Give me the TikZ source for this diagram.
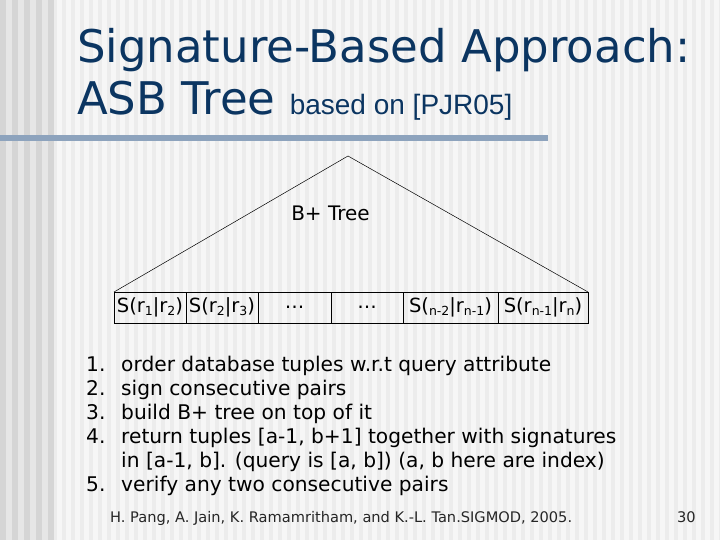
\documentclass[tikz,border=0pt]{standalone}
\usepackage{fontspec}
\setmainfont{DejaVu Sans}
\newfontfamily\armfont{Liberation Sans}
\usepackage{tikz}
\usetikzlibrary{calc}

\definecolor{bgmain}{HTML}{F6F6F6}
\definecolor{bgstripe}{HTML}{ECECEC}
\definecolor{bandlight}{HTML}{E6E6E6}
\definecolor{banddark}{HTML}{D5D5D5}
\definecolor{titleblue}{HTML}{0B3561}
\definecolor{rulegray}{HTML}{8DA3BD}

\newcommand{\lowidx}[1]{\raisebox{-0.3ex}{\fontsize{12.5}{12.5}\selectfont #1}}

\tikzset{
	titletext/.style={anchor=base west,inner sep=0pt,text=titleblue,font=\fontsize{45}{50}\selectfont},
	sigcell/.style={draw,line width=0.7pt,minimum height=31pt,inner sep=0pt,outer sep=0pt,font=\fontsize{19.5}{22}\selectfont},
	treeline/.style={line width=0.5pt},
	listnum/.style={anchor=base west,inner sep=0pt,font=\fontsize{20.2}{24}\selectfont},
	listtext/.style={anchor=base west,inner sep=0pt,font=\fontsize{20.2}{24}\selectfont},
	reftext/.style={anchor=base west,inner sep=0pt,text=black!85,font=\fontsize{14.6}{16}\selectfont}
}

\begin{document}
\begin{tikzpicture}[x=1pt,y=-1pt]
				\useasboundingbox (0,0) rectangle (720,540);
				% background stripes
				\fill[bgmain] (0,0) rectangle (720,540);
				\foreach \i in {0,...,74}
					\fill[bgstripe] (53+9*\i,0) rectangle ++(4,540);
				\fill[bandlight] (0,0) rectangle (53,540);
				\foreach \i in {0,...,4}
					\fill[banddark] (12*\i,0) rectangle ++(6,540);
				\fill[rulegray] (0,135) rectangle (548,141);
				% title
				\node[titletext] (title1) at (77,62.7){Signature-Based Approach:};
				\node[titletext] (title2) at (77,115){ASB Tree {\armfont\fontsize{28}{30}\selectfont based on [PJR05]}};
				% tree
				\coordinate (top) at (348,156);
				\node[sigcell,minimum width=72pt] (c1) at (150,307.5){S(r\lowidx{1}|r\lowidx{2})};
				\node[sigcell,minimum width=72pt] (c2) at (222,307.5){S(r\lowidx{2}|r\lowidx{3})};
				\node[sigcell,minimum width=73pt] (c3) at (294.5,307.5){…};
				\node[sigcell,minimum width=72pt] (c4) at (367,307.5){…};
				\node[sigcell,minimum width=95pt] (c5) at (450.5,307.5){S(\lowidx{n-2}|r\lowidx{n-1})};
				\node[sigcell,minimum width=90pt] (c6) at (543,307.5){S(r\lowidx{n-1}|r\lowidx{n})};
				\draw[treeline] (c1.north west) -- (top) -- (c6.north east);
				\node[anchor=base,inner sep=0pt,font=\fontsize{20}{24}\selectfont] (btree) at (330.5,221){B+ Tree};
				% steps
				\node[listnum] (n1) at (86,371){1.};
				\node[listnum] (n2) at (86,395){2.};
				\node[listnum] (n3) at (86,419){3.};
				\node[listnum] (n4) at (86,443){4.};
				\node[listnum] (n5) at (86,491){5.};
				\node[listtext] (s1) at (121,371){order database tuples w.r.t query attribute};
				\node[listtext] (s2) at (121,395){sign consecutive pairs};
				\node[listtext] (s3) at (121,419){build B+ tree on top of it};
				\node[listtext] (s4) at (121,443){return tuples [a-1, b+1] together with signatures};
				\node[listtext] (s4b) at (121,467){in [a-1, b]. (query is [a, b]) (a, b here are index)};
				\node[listtext] (s5) at (121,491){verify any two consecutive pairs};
				% reference and page
				\node[reftext] (cite) at (110,522){H. Pang, A. Jain, K. Ramamritham, and K.-L. Tan.SIGMOD, 2005.};
				\node[reftext] (page) at (677,522){30};
			\end{tikzpicture}
\end{document}
